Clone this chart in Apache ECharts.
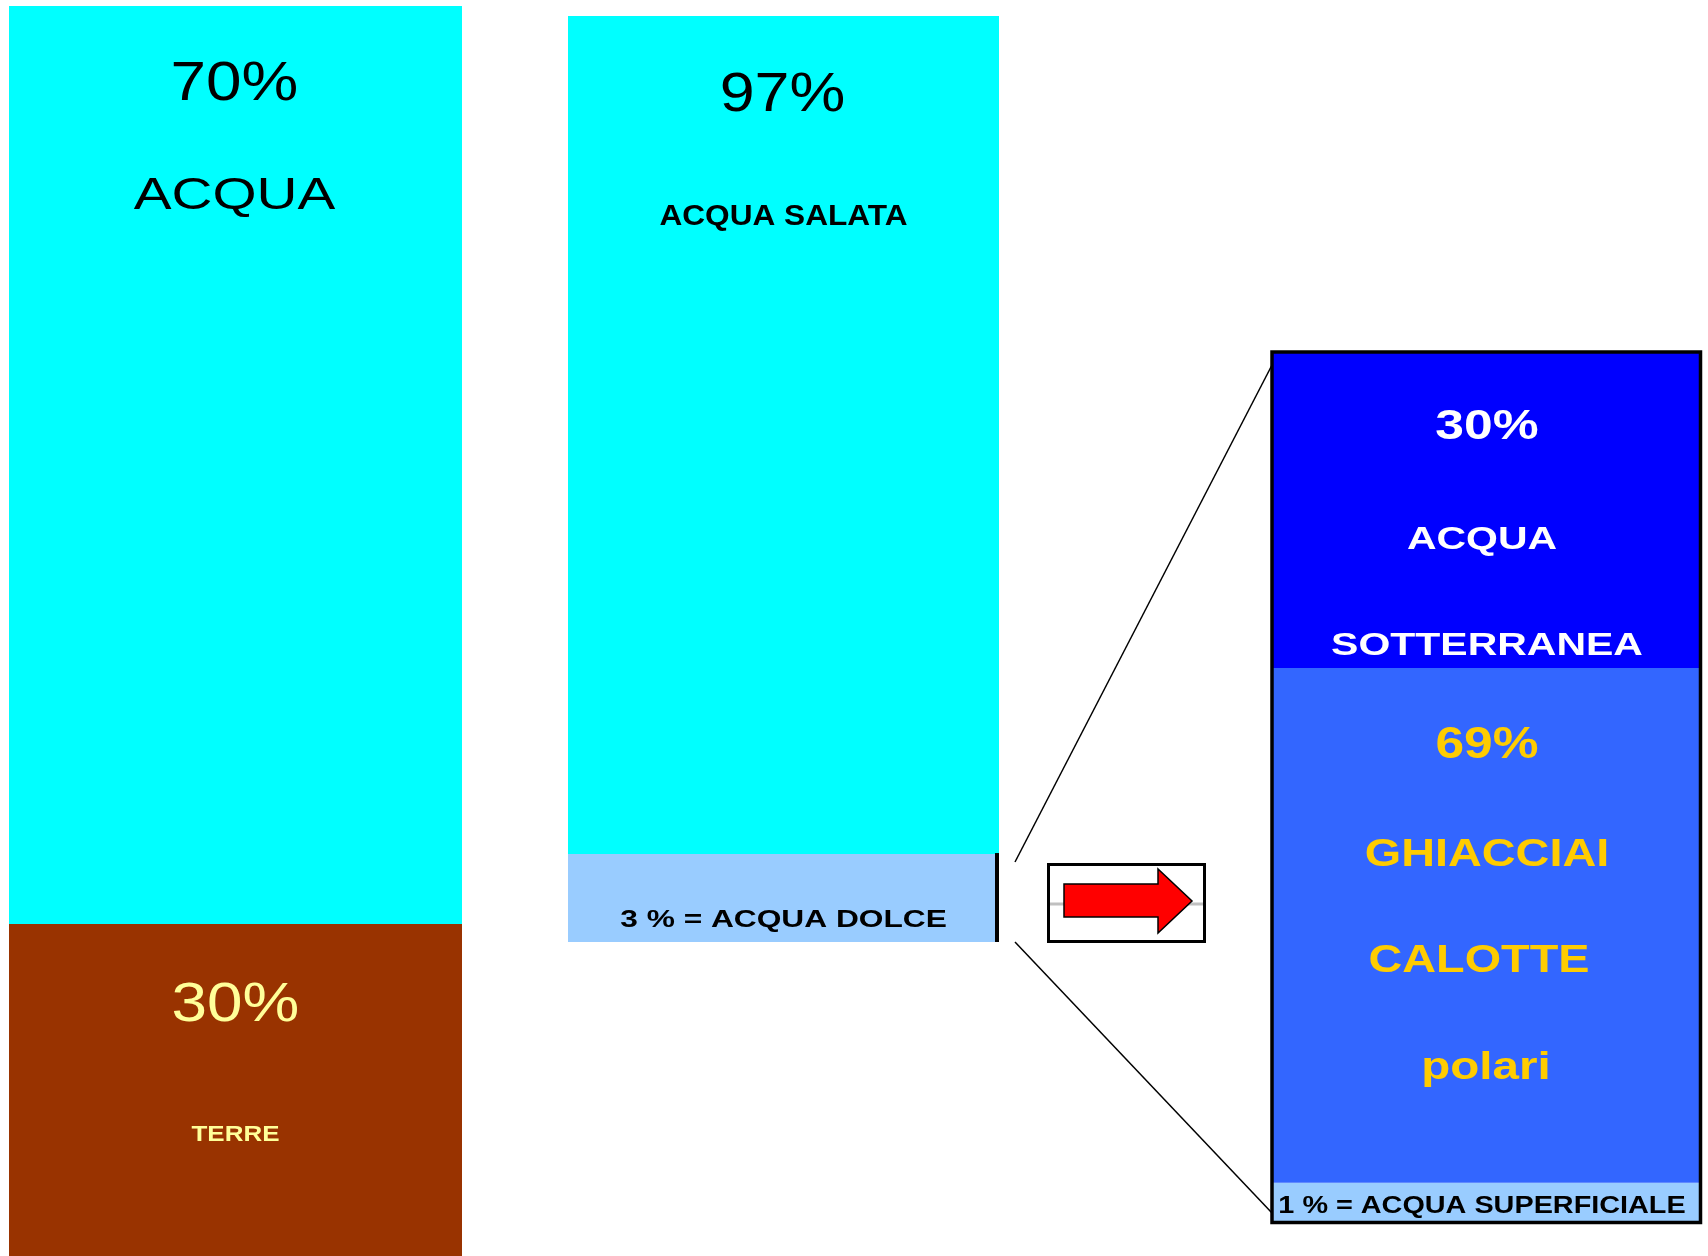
<!DOCTYPE html>
<html>
<head>
<meta charset="utf-8">
<script src="https://cdn.jsdelivr.net/npm/echarts@6/dist/echarts.min.js"></script>
<style>
html,body{margin:0;padding:0;background:#ffffff;}
#c{width:1708px;height:1256px;}
</style>
</head>
<body>
<div id="c"></div>
<script>
// ---------------- DATA ----------------
// Bar 1: Earth's surface (stack order bottom -> top)
const earthCategory = ['Superficie'];
const earthSegments = ['TERRE', 'ACQUA'];
const earthValues = [30, 70];
const earthTexts = [['30%', 'TERRE'], ['70%', 'ACQUA']];

// Bar 2: water on Earth (drawn heights as in the schematic, bottom -> top)
const waterCategory = ['Acqua'];
const waterSegments = ['ACQUA DOLCE', 'ACQUA SALATA'];
const waterValues = [9.5, 90.5];
const waterTexts = [['3 % = ACQUA DOLCE'], ['97%', 'ACQUA SALATA']];

// Bar 3: fresh water breakdown (drawn heights as in the schematic, bottom -> top)
const freshCategory = ['Acqua dolce'];
const freshSegments = ['ACQUA SUPERFICIALE', 'GHIACCIAI CALOTTE POLARI', 'ACQUA SOTTERRANEA'];
const freshValues = [4.4, 59.3, 36.3];
const freshTexts = [['1 % = ACQUA SUPERFICIALE'], ['69%', 'GHIACCIAI', 'CALOTTE', 'polari'], ['30%', 'ACQUA', 'SOTTERRANEA']];

// ---------------- STYLE / LAYOUT ----------------
const FONT = '"Liberation Sans", Arial, Helvetica, sans-serif';
const grids = [
  {left: 9, top: 6, width: 453, height: 1250},
  {left: 568, top: 16, width: 431, height: 926},
  {left: 1273, top: 353, width: 426, height: 868}
];
// the first bar runs past the bottom edge of the picture
const yMins = [4.68, 0, 0];
const cats = [earthCategory, waterCategory, freshCategory];
const segNames = [earthSegments, waterSegments, freshSegments];
const vals = [earthValues, waterValues, freshValues];
const texts = [earthTexts, waterTexts, freshTexts];
const colors = [
  ['#993300', '#00FFFF'],
  ['#99CCFF', '#00FFFF'],
  ['#99CCFF', '#3366FF', '#0000FF']
];
// per grid, per segment, per text line: [dy from segment top, dx, size, weight, color, scaleX]
const textStyles = [
  [
    [[82, 0, 56, 'normal', '#FFFF99', 1.14], [211, 0, 22, 'bold', '#FFFF99', 1.18]],
    [[79, -1, 56, 'normal', '#000000', 1.14], [191, -1, 45, 'normal', '#000000', 1.26]]
  ],
  [
    [[66, 0, 24, 'bold', '#000000', 1.32]],
    [[80, -1, 56, 'normal', '#000000', 1.12], [201, 0, 29, 'bold', '#000000', 1.09]]
  ],
  [
    [[24, -4, 24, 'bold', '#000000', 1.2]],
    [[78, 1, 44, 'bold', '#FFCC00', 1.17], [187, 1, 39, 'bold', '#FFCC00', 1.2], [293, -7, 39, 'bold', '#FFCC00', 1.2], [400, 0, 39, 'bold', '#FFCC00', 1.22]],
    [[74, 1, 43, 'bold', '#FFFFFF', 1.2], [187, -4, 32, 'bold', '#FFFFFF', 1.28], [293, 1, 32, 'bold', '#FFFFFF', 1.28]]
  ]
];

const chart = echarts.init(document.getElementById('c'), null, {renderer: 'canvas'});

const series = [];
vals.forEach((arr, gi) => {
  arr.forEach((v, si) => {
    series.push({
      type: 'bar', name: segNames[gi][si], xAxisIndex: gi, yAxisIndex: gi,
      stack: 'stack' + gi, data: [v], barWidth: '100%', silent: true, clip: true,
      itemStyle: {color: colors[gi][si]}, label: {show: false}
    });
  });
});

chart.setOption({
  animation: false,
  backgroundColor: '#ffffff',
  tooltip: {show: false},
  grid: grids.map(g => ({left: g.left, top: g.top, width: g.width, height: g.height})),
  xAxis: grids.map((g, i) => ({type: 'category', gridIndex: i, data: cats[i], show: false})),
  yAxis: grids.map((g, i) => ({type: 'value', gridIndex: i, min: yMins[i], max: 100, show: false})),
  series: series
});

// ---------------- ANNOTATIONS (positioned from the axes) ----------------
const yPix = (gi, v) => chart.convertToPixel({yAxisIndex: gi}, v);
const xPix = (gi) => chart.convertToPixel({xAxisIndex: gi}, cats[gi][0]);
const graphic = [];

vals.forEach((arr, gi) => {
  let cum = 0;
  const cx = xPix(gi);
  arr.forEach((v, si) => {
    cum += v;
    const top = yPix(gi, cum);
    texts[gi][si].forEach((t, ti) => {
      const s = textStyles[gi][si][ti];
      graphic.push({
        type: 'text', x: cx + s[1], y: top + s[0], scaleX: s[5], z: 100, silent: true,
        style: {
          text: t, fill: s[4], font: s[3] + ' ' + s[2] + 'px ' + FONT,
          align: 'center', verticalAlign: 'middle',
          textAlign: 'center', textVerticalAlign: 'middle'
        }
      });
    });
  });
});

// middle bar geometry
const midRight = grids[1].left + grids[1].width;
const midBoundary = yPix(1, waterValues[0]);
const midBottom = yPix(1, 0);
// right box geometry
const rLeft = grids[2].left;
const rTop = yPix(2, 100);
const rBottom = yPix(2, 0);

// black marker on the fresh water slice
graphic.push({type: 'rect', z: 90, silent: true,
  shape: {x: midRight - 4, y: midBoundary - 1, width: 4, height: midBottom - midBoundary + 1},
  style: {fill: '#000000'}});

// zoom lines
graphic.push({type: 'line', z: 90, silent: true,
  shape: {x1: midRight + 16, y1: midBoundary + 8, x2: rLeft - 1, y2: rTop + 12},
  style: {stroke: '#000000', lineWidth: 1.5}});
graphic.push({type: 'line', z: 90, silent: true,
  shape: {x1: midRight + 16, y1: midBottom, x2: rLeft - 1, y2: rBottom - 8},
  style: {stroke: '#000000', lineWidth: 1.5}});

// right box border
graphic.push({type: 'rect', z: 95, silent: true,
  shape: {x: rLeft - 1, y: rTop - 1, width: grids[2].width + 2.5, height: rBottom - rTop + 2.5},
  style: {fill: 'none', stroke: '#000000', lineWidth: 3.5}});

// arrow box
const bx = midRight + 48, by = midBoundary + 9;
graphic.push({type: 'rect', z: 90, silent: true,
  shape: {x: bx + 1.5, y: by + 1.5, width: 156, height: 77},
  style: {fill: '#ffffff', stroke: '#000000', lineWidth: 3}});
graphic.push({type: 'line', z: 91, silent: true,
  shape: {x1: bx + 3, y1: by + 41, x2: bx + 156, y2: by + 41},
  style: {stroke: '#C0C0C0', lineWidth: 3}});
graphic.push({type: 'polygon', z: 92, silent: true,
  shape: {points: [[bx + 17, by + 21], [bx + 111, by + 21], [bx + 111, by + 6], [bx + 145, by + 38],
                   [bx + 111, by + 70], [bx + 111, by + 54], [bx + 17, by + 54]]},
  style: {fill: '#FF0000', stroke: '#000000', lineWidth: 1.5}});

chart.setOption({graphic: graphic});
</script>
</body>
</html>
